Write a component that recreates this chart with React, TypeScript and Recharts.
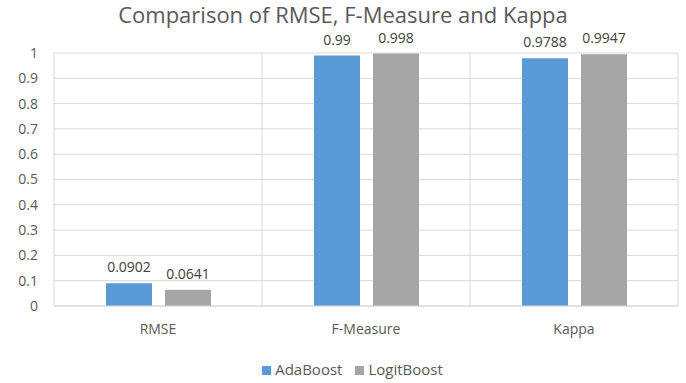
import { BarChart, Bar, XAxis, YAxis, CartesianGrid, Legend, LabelList } from 'recharts'

const categories = ['RMSE', 'F-Measure', 'Kappa']
const adaBoost = [0.0902, 0.99, 0.9788]
const logitBoost = [0.0641, 0.998, 0.9947]
const yTicks = [0, 0.1, 0.2, 0.3, 0.4, 0.5, 0.6, 0.7, 0.8, 0.9, 1]

const data = categories.map((name, i) => ({
  name,
  AdaBoost: adaBoost[i],
  LogitBoost: logitBoost[i],
}))

const TEXT = '#595959'
const GRID = '#d9d9d9'
const FONT = '"Open Sans", "Noto Sans", sans-serif'

export default function App() {
  return (
    <div style={{ position: 'absolute', left: 0, top: 0, width: 686, height: 383, fontFamily: FONT, background: '#fff' }}>
      <div
        style={{
          position: 'absolute',
          top: 0,
          left: 0,
          width: 686,
          textAlign: 'center',
          fontSize: 22,
          lineHeight: '28px',
          color: TEXT,
        }}
      >
        Comparison of RMSE, F-Measure and Kappa
      </div>
      <BarChart
        width={686}
        height={383}
        data={data}
        margin={{ top: 53, right: 8, left: 0, bottom: 27 }}
        barSize={46}
        barGap={13}
      >
        <CartesianGrid
          stroke={GRID}
          horizontal={true}
          vertical={true}
          verticalCoordinatesGenerator={({ offset }: any) =>
            [0, 1, 2, 3].map((k) => offset.left + (offset.width * k) / 3)
          }
        />
        <XAxis
          dataKey="name"
          axisLine={{ stroke: GRID }}
          tickLine={false}
          tickMargin={12}
          height={30}
          tick={{ fill: TEXT, fontSize: 14 }}
        />
        <YAxis
          domain={[0, 1]}
          ticks={yTicks}
          width={54}
          axisLine={false}
          tickLine={false}
          tickMargin={10}
          tick={{ fill: TEXT, fontSize: 14 }}
        />
        <Legend
          verticalAlign="bottom"
          iconType="square"
          iconSize={9}
          wrapperStyle={{ fontSize: 15, color: TEXT, top: 359, left: 16, width: 686 }}
          formatter={(value: string) => <span style={{ color: TEXT, marginRight: 3 }}>{value}</span>}
        />
        <Bar dataKey="AdaBoost" fill="#5B9BD5" isAnimationActive={false}>
          <LabelList dataKey="AdaBoost" position="top" offset={11} fill="#404040" fontSize={14} />
        </Bar>
        <Bar dataKey="LogitBoost" fill="#A5A5A5" isAnimationActive={false}>
          <LabelList dataKey="LogitBoost" position="top" offset={11} fill="#404040" fontSize={14} />
        </Bar>
      </BarChart>
    </div>
  )
}
